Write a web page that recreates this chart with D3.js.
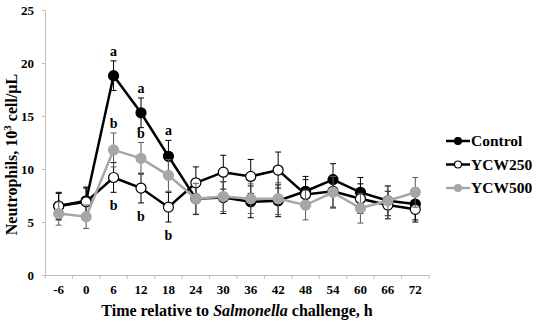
<!DOCTYPE html>
<html>
<head>
<meta charset="utf-8">
<script src="https://cdn.jsdelivr.net/npm/d3@7"></script>
<style>
  body { margin: 0; background: #fff; }
  svg { display: block; }
  text { font-family: "Liberation Serif", "Times New Roman", serif; font-weight: bold; }
</style>
</head>
<body>
<svg id="chart" width="536" height="322"></svg>
<script>
// time points (h relative to challenge)
const times = [-6, 0, 6, 12, 18, 24, 30, 36, 42, 48, 54, 60, 66, 72];
const yTicks = [0, 5, 10, 15, 20, 25];

const controlMean = [6.5, 7.0, 18.8, 15.3, 11.2, 7.2, 7.3, 6.9, 7.0, 7.9, 9.0, 7.8, 7.0, 6.7];
const controlSE   = [1.3, 1.3, 1.4, 1.4, 1.5, 1.5, 1.5, 1.5, 1.5, 1.4, 1.5, 1.4, 1.4, 1.5];
const ycw250Mean  = [6.5, 6.9, 9.2, 8.2, 6.4, 8.7, 9.7, 9.3, 9.9, 7.6, 7.9, 7.2, 6.6, 6.2];
const ycw250SE    = [1.2, 1.3, 1.4, 1.4, 1.4, 1.5, 1.6, 1.6, 1.7, 1.4, 1.5, 1.4, 1.3, 1.2];
const ycw500Mean  = [5.8, 5.5, 11.8, 11.0, 9.4, 7.2, 7.4, 7.2, 7.2, 6.6, 7.8, 6.3, 7.0, 7.8];
const ycw500SE    = [1.1, 1.1, 1.6, 1.5, 1.5, 1.45, 1.4, 1.4, 1.5, 1.4, 1.5, 1.4, 1.4, 1.4];

// significance letters
const sigSeries = ["Control", "Control", "Control", "YCW500", "YCW500", "YCW250", "YCW250", "YCW250"];
const sigTimes  = [6, 12, 18, 6, 12, 6, 12, 18];
const sigLetters = ["a", "a", "a", "b", "b", "b", "b", "b"];
const sigSide   = ["above", "above", "above", "above", "above", "below", "below", "below"];

const series = [
  { name: "Control", mean: controlMean, se: controlSE, line: "#000", fill: "#000", stroke: "#000", err: "#000" },
  { name: "YCW250", mean: ycw250Mean, se: ycw250SE, line: "#000", fill: "#fff", stroke: "#000", err: "#000" },
  { name: "YCW500", mean: ycw500Mean, se: ycw500SE, line: "#a6a6a6", fill: "#a6a6a6", stroke: "#a6a6a6", err: "#595959" }
];

const svg = d3.select("#chart");
const plot = { left: 45, right: 429, top: 10, bottom: 275 };

const x = d3.scaleBand().domain(times).range([plot.left, plot.right]).padding(0);
const cx = t => x(t) + x.bandwidth() / 2;
const y = d3.scaleLinear().domain([0, 25]).range([plot.bottom, plot.top]);

const axisColor = "#bfbfbf";

// y axis
const yAxis = svg.append("g")
  .attr("transform", `translate(${plot.left},0)`)
  .call(d3.axisLeft(y).tickValues(yTicks).tickSize(3).tickPadding(8));
yAxis.select(".domain").attr("stroke", axisColor);
yAxis.selectAll(".tick line").attr("stroke", axisColor);
yAxis.selectAll("text").attr("font-size", 13).attr("fill", "#000")
  .style("font-family", "'Liberation Serif', serif").style("font-weight", "bold");

// x axis (labels at band centres, ticks at band edges)
const xAxis = svg.append("g")
  .attr("transform", `translate(0,${plot.bottom})`)
  .call(d3.axisBottom(x).tickSize(0).tickPadding(10));
xAxis.select(".domain").attr("stroke", axisColor);
xAxis.selectAll("text").attr("font-size", 13).attr("fill", "#000")
  .style("font-family", "'Liberation Serif', serif").style("font-weight", "bold");
svg.append("g").selectAll("line")
  .data(times.map(t => x(t)).concat([plot.right]))
  .join("line")
  .attr("x1", d => d).attr("x2", d => d)
  .attr("y1", plot.bottom).attr("y2", plot.bottom + 4)
  .attr("stroke", axisColor);

// axis titles
svg.append("text")
  .attr("transform", `translate(17,${(plot.top + plot.bottom) / 2 + 12}) rotate(-90)`)
  .attr("text-anchor", "middle")
  .attr("font-size", 16)
  .html('Neutrophils, 10<tspan baseline-shift="super" font-size="11">3</tspan> cell/µL');

const xt = svg.append("text")
  .attr("x", (plot.left + plot.right) / 2)
  .attr("y", 316)
  .attr("text-anchor", "middle")
  .attr("font-size", 16);
xt.append("tspan").text("Time relative to ");
xt.append("tspan").attr("font-style", "italic").text("Salmonella");
xt.append("tspan").text(" challenge, h");

const line = d3.line().x((d, i) => cx(times[i])).y(d => y(d));

series.forEach(s => {
  const g = svg.append("g");
  // error bars
  const eb = g.selectAll(".err").data(s.mean).join("g").attr("class", "err");
  eb.append("line")
    .attr("x1", (d, i) => cx(times[i])).attr("x2", (d, i) => cx(times[i]))
    .attr("y1", (d, i) => y(d - s.se[i])).attr("y2", (d, i) => y(d + s.se[i]))
    .attr("stroke", s.err).attr("stroke-width", 1);
  [-1, 1].forEach(sign => {
    eb.append("line")
      .attr("x1", (d, i) => cx(times[i]) - 3).attr("x2", (d, i) => cx(times[i]) + 3)
      .attr("y1", (d, i) => y(d + sign * s.se[i])).attr("y2", (d, i) => y(d + sign * s.se[i]))
      .attr("stroke", s.err).attr("stroke-width", 1);
  });
  g.append("path").datum(s.mean)
    .attr("d", line)
    .attr("fill", "none")
    .attr("stroke", s.line)
    .attr("stroke-width", 2.5);
  g.selectAll("circle").data(s.mean).join("circle")
    .attr("cx", (d, i) => cx(times[i]))
    .attr("cy", d => y(d))
    .attr("r", 5)
    .attr("fill", s.fill)
    .attr("stroke", s.stroke)
    .attr("stroke-width", 1.2);
});

// significance letters
svg.append("g").selectAll("text")
  .data(sigLetters)
  .join("text")
  .attr("text-anchor", "middle")
  .attr("font-size", 14)
  .attr("x", (d, i) => cx(sigTimes[i]))
  .attr("y", (d, i) => {
    const s = series.find(o => o.name === sigSeries[i]);
    const k = times.indexOf(sigTimes[i]);
    return sigSide[i] === "above" ? y(s.mean[k] + s.se[k]) - 5 : y(s.mean[k] - s.se[k]) + 18;
  })
  .text(d => d);

// legend
const legend = svg.append("g").selectAll("g")
  .data(series)
  .join("g")
  .attr("transform", (d, i) => `translate(446,${141 + i * 23.5})`);
legend.append("line")
  .attr("x1", 0).attr("x2", 24)
  .attr("stroke", d => d.line).attr("stroke-width", 2.5);
legend.append("circle")
  .attr("cx", 12).attr("r", 3.5)
  .attr("fill", d => d.fill).attr("stroke", d => d.stroke).attr("stroke-width", 1.2);
legend.append("text")
  .attr("x", 25).attr("dy", "0.35em")
  .attr("font-size", 15.5)
  .text(d => d.name);
</script>
</body>
</html>
